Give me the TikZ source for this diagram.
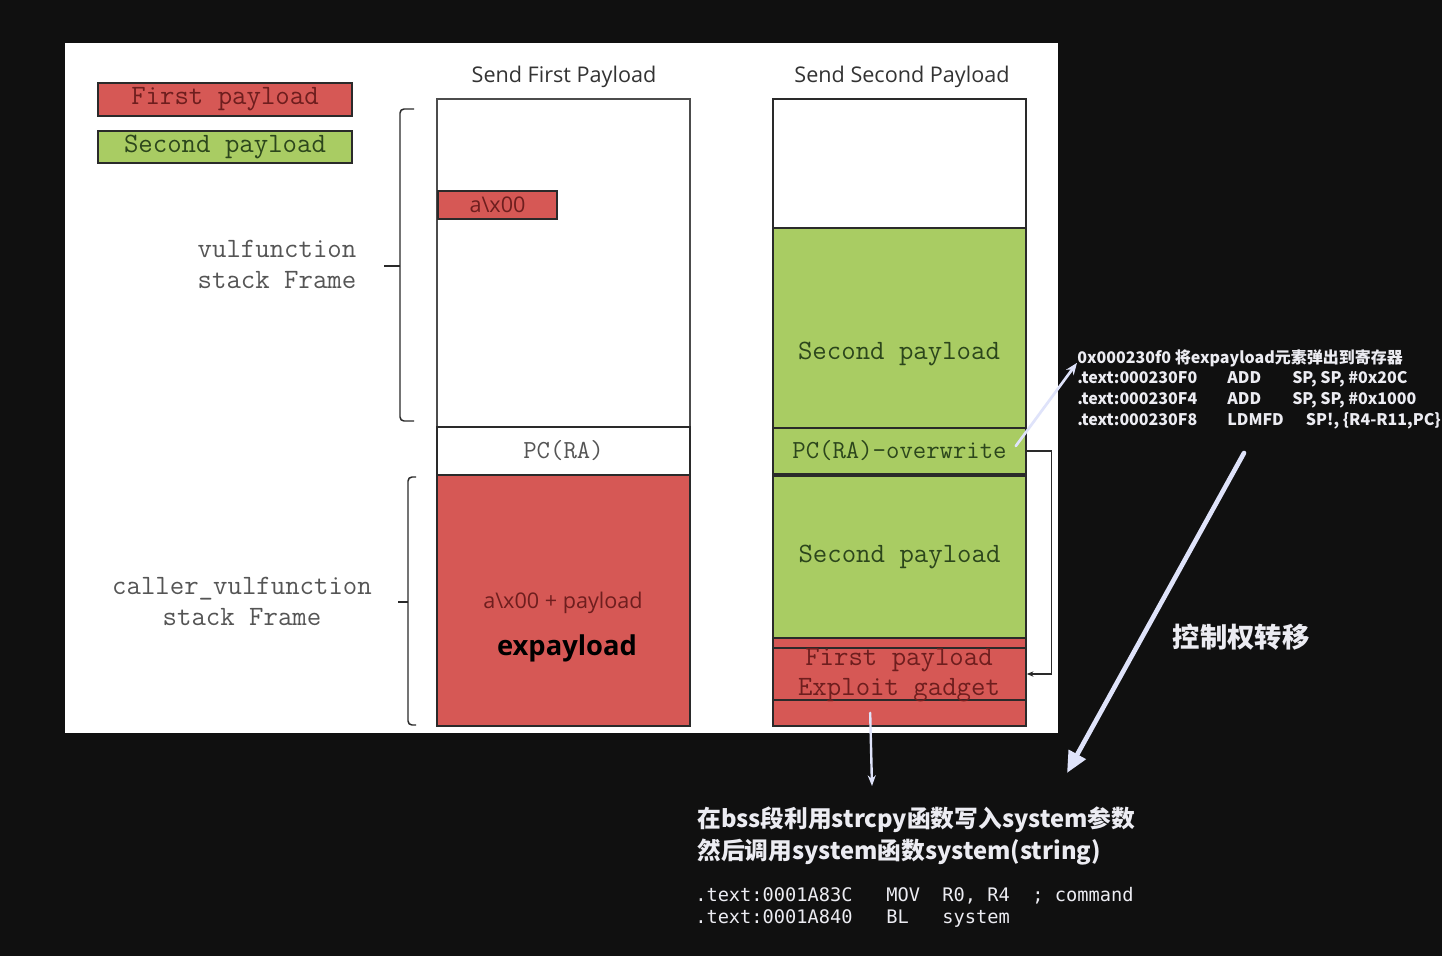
\documentclass[tikz,border=0pt]{standalone}
\usepackage{fontspec}
\setmainfont{Open Sans}
\newfontfamily\courfont{Latin Modern Mono}
\newfontfamily\cjkfont{Noto Sans CJK SC}
\newfontfamily\asmfont{DejaVu Sans Mono}
\usetikzlibrary{arrows.meta}

\definecolor{bgblack}{HTML}{101010}
\definecolor{payred}{HTML}{D65855}
\definecolor{paygreen}{HTML}{A9CC63}
\definecolor{redink}{HTML}{6E1E1E}
\definecolor{greenink}{HTML}{2C461C}
\definecolor{grayink}{HTML}{555555}
\definecolor{cellline}{HTML}{2A2A2A}
\definecolor{lav}{HTML}{DFE3FA}
\definecolor{noteink}{HTML}{ECECF2}

\begin{document}
\begin{tikzpicture}[x=0.75pt,y=-0.75pt,
  cell/.style={draw=cellline, line width=1.2pt, inner sep=0pt, minimum width=189.75pt},
  courtext/.style={font=\courfont\fontsize{21}{23.25}\selectfont},
  courpc/.style={font=\courfont\fontsize{19.5}{20}\selectfont},
  uitext/.style={font=\fontsize{16.2}{18}\selectfont},
  notetext/.style={font=\cjkfont\bfseries\fontsize{12}{14}\selectfont, text=noteink, anchor=west, inner sep=0pt},
  bignote/.style={font=\cjkfont\bfseries\fontsize{17.8}{20}\selectfont, text=noteink, anchor=west, inner sep=0pt},
  codetext/.style={font=\asmfont\fontsize{14}{16}\selectfont, text=noteink, anchor=west, inner sep=0pt},
  lavarrow/.style={draw=lav, line cap=round}]
  \useasboundingbox (0,0) rectangle (1442,956);
  \fill[bgblack] (0,0) rectangle (1442,956);
  \fill[white] (65,43) rectangle (1058,733);

  % legend
  \node[cell, fill=payred, minimum width=190.5pt, minimum height=24.75pt, courtext, text=redink] (legfirst) at (225,99.5) {First payload};
  \node[cell, fill=paygreen, minimum width=190.5pt, minimum height=24pt, courtext, text=greenink] (legsecond) at (225,147) {Second payload};

  % titles
  \node[uitext, text=black!80] (ttlfirst) at (564,77) {Send First Payload};
  \node[uitext, text=black!80] (ttlsecond) at (902,77) {Send Second Payload};

  % first payload stack
  \node[cell, draw=black!70, minimum height=246pt] (lframe) at (563.5,263) {};
  \node[cell, fill=payred, minimum width=89.25pt, minimum height=21pt, uitext, text=redink] (lnull) at (497.5,205) {a\textbackslash x00};
  \node[cell, minimum height=36pt, courpc, text=grayink] (lpc) at (563.5,451) {PC(RA)};
  \node[cell, fill=payred, minimum height=188.25pt] (lexp) at (563.5,600.5) {};
  \node[uitext, text=redink] (lexptxt) at (563,603) {a\textbackslash x00 + payload};
  \node[font=\bfseries\fontsize{20.5}{24}\selectfont] (lexpname) at (567,648) {expayload};

  % second payload stack
  \node[cell, minimum height=96.75pt] (rtop) at (899.5,163.5) {};
  \node[cell, fill=paygreen, minimum height=150pt] (rsecond) at (899.5,328) {};
  \node[courtext, text=greenink] (rsecondtxt) at (899,354) {Second payload};
  \node[cell, fill=paygreen, minimum height=34.5pt, courpc, text=greenink] (rpc) at (899.5,451) {PC(RA)-overwrite};
  \node[cell, fill=paygreen, line width=1.6pt, minimum height=121.5pt, courtext, text=greenink] (rsecond2) at (899.5,557) {Second payload};
  \node[cell, fill=payred, minimum height=66pt] (rfirst) at (899.5,682) {};
  \node[cell, fill=payred, minimum height=39pt] (rgadget) at (899.5,674) {};
  \node[courtext, text=redink] (rgadtxtA) at (899,660) {First payload};
  \node[courtext, text=redink] (rgadtxtB) at (899,690) {Exploit gadget};

  % frames
  \node[courtext, text=grayink, align=center] (vulframe) at (277,264) {vulfunction\\stack Frame};
  \node[courtext, text=grayink, align=center] (callerframe) at (242,601) {caller\_vulfunction\\stack Frame};
  \draw[cellline, line width=1.1pt, rounded corners=3pt] (414,109) -- (400,109) -- (400,421) -- (414,421);
  \draw[cellline, line width=1.1pt] (400,266) -- (384,266);
  \draw[cellline, line width=1.1pt, rounded corners=3pt] (416,477) -- (408,477) -- (408,725) -- (416,725);
  \draw[cellline, line width=1.1pt] (408,602) -- (398,602);

  % return address jumps to the gadget
  \draw[cellline, line width=0.9pt, -{Stealth[length=5pt,width=4pt]}] (rpc.east) -- ++(25,0) |- (rgadget.east);

  % gadget notes
  \node[notetext] (gadhdr) at (1077,358) {0x000230f0 将expayload元素弹出到寄存器};
  \node[notetext] (asmA) at (1077,379) {\makebox[112.5pt][l]{.text:000230F0}\makebox[48.75pt][l]{ADD}SP, SP, \#0x20C};
  \node[notetext] (asmB) at (1077,400) {\makebox[112.5pt][l]{.text:000230F4}\makebox[48.75pt][l]{ADD}SP, SP, \#0x1000};
  \node[notetext] (asmC) at (1077,421) {\makebox[112.5pt][l]{.text:000230F8}\makebox[59pt][l]{LDMFD}SP!, \{R4-R11,PC\}};
  \draw[lavarrow, line width=2pt, -{Stealth[length=9pt,width=7pt]}] ([xshift=-8.25pt,yshift=3.75pt]rpc.east) -- ([yshift=6pt]asmA.north west);

  % control transfer
  \coordinate (ctlstart) at (1244,453);
  \coordinate (ctlend) at (1067,773);
  \draw[lavarrow, line width=3.5pt, -{Triangle[length=16pt,width=14pt]}] (ctlstart) -- (ctlend);
  \node[font=\cjkfont\bfseries\fontsize{20.5}{24}\selectfont, text=noteink] (ctltxt) at (1241,637) {控制权转移};

  % system call notes
  \node[bignote] (bssnote) at (697,820) {在bss段利用strcpy函数写入system参数};
  \node[bignote] (sysnote) at (697,852) {然后调用system函数system(string)};
  \node[codetext] (movline) at (695,896) {.text:0001A83C~~~MOV~~R0,~R4~~;~command};
  \node[codetext] (blline) at (695,919) {.text:0001A840~~~BL~~~system};
  \coordinate (dnend) at (872,786);
  \draw[lavarrow, line width=1.8pt, -{Stealth[length=8pt,width=6pt]}] ([xshift=-22pt,yshift=10.5pt]rfirst.south) -- (dnend);
\end{tikzpicture}
\end{document}
